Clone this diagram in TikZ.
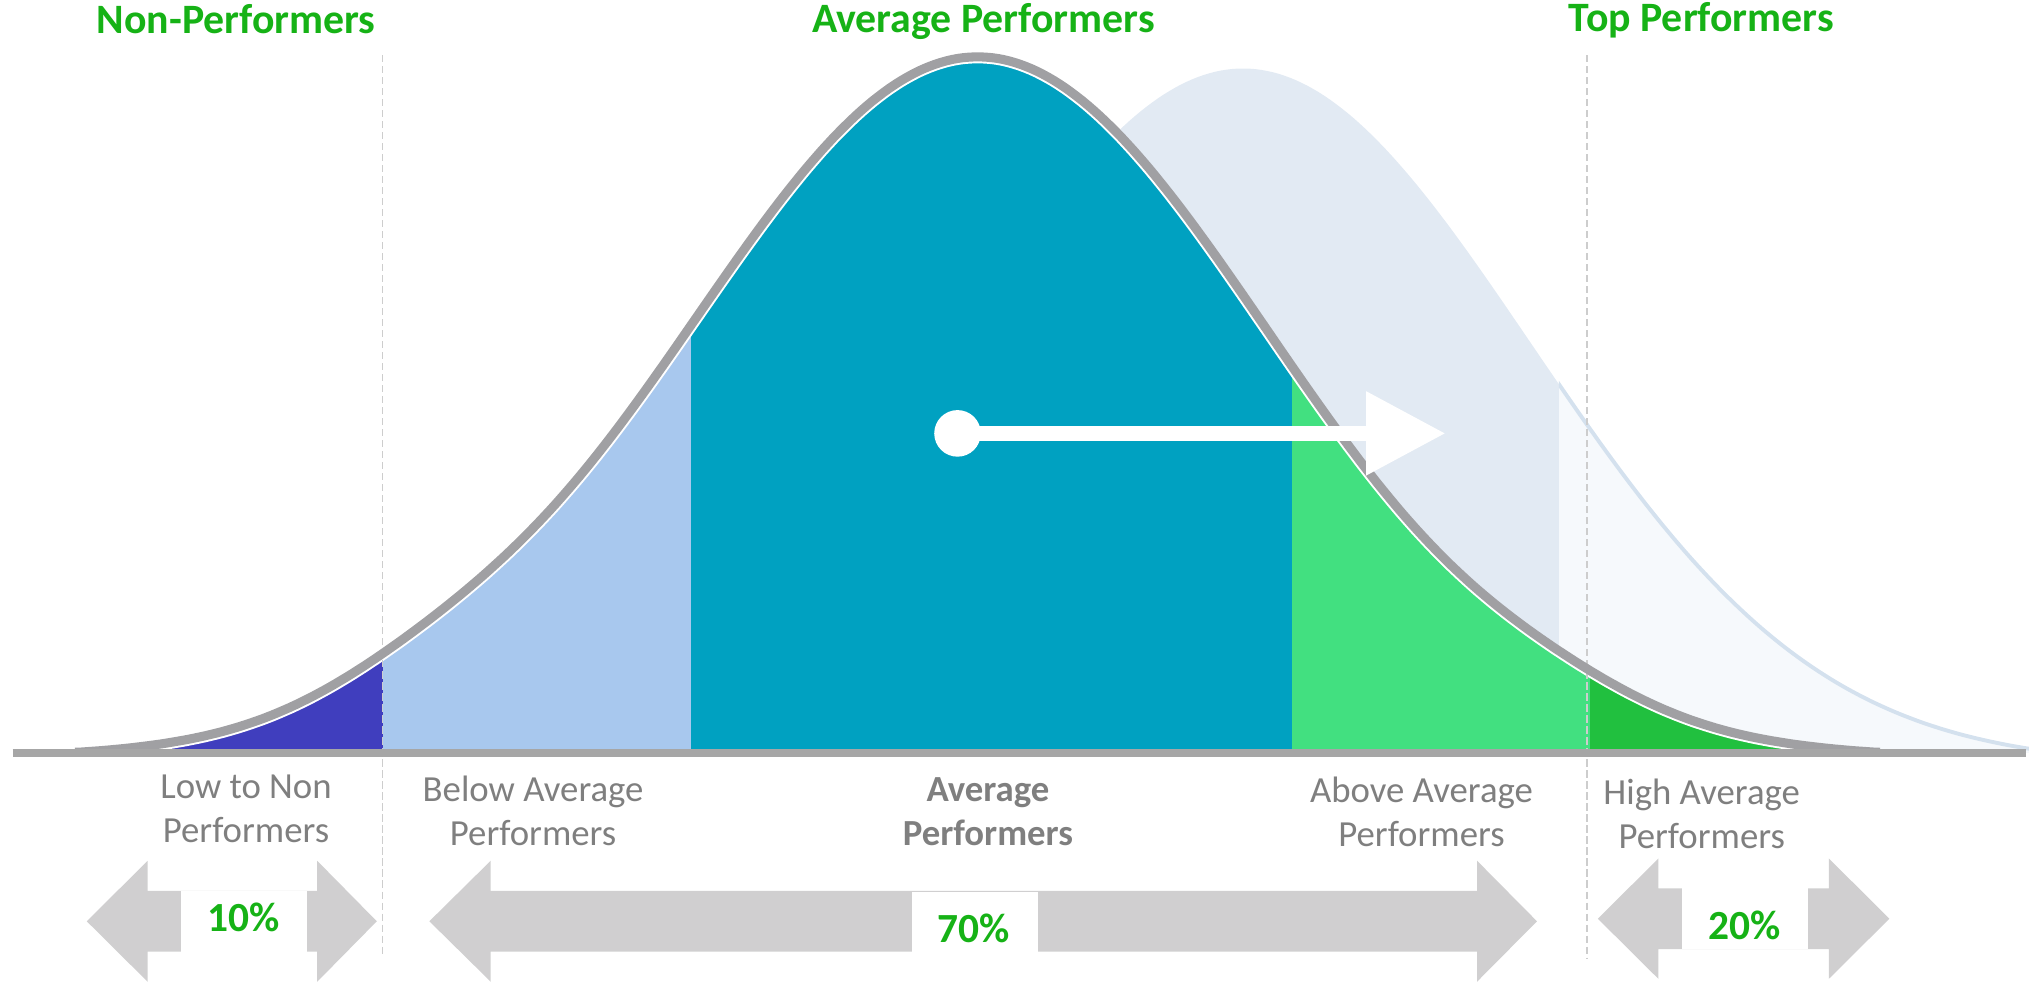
\documentclass[tikz,border=0pt]{standalone}
\usepackage{fontspec}
\setmainfont{Carlito}
\usetikzlibrary{arrows.meta}
\definecolor{cDarkBlue}{RGB}{64,62,190}
\definecolor{cLightBlue}{RGB}{168,200,238}
\definecolor{cTeal}{RGB}{0,161,193}
\definecolor{cLightGreen}{RGB}{66,224,128}
\definecolor{cDarkGreen}{RGB}{33,192,63}
\definecolor{cGhost}{RGB}{226,234,243}
\definecolor{cGhostPale}{RGB}{246,249,252}
\definecolor{cGhostLine}{RGB}{212,225,238}
\definecolor{cCurve}{RGB}{160,160,163}
\definecolor{cAxis}{RGB}{166,166,166}
\definecolor{cLabel}{RGB}{127,127,127}
\definecolor{cArrow}{RGB}{208,207,208}
\definecolor{cGreenText}{RGB}{22,178,22}
\definecolor{cDash}{RGB}{205,205,205}
\newcommand\mainpath{plot[domain=58:1452, samples=320] (\x, {581 - max(0, 541.6*exp(-((\x-755)/318.2)^2) - 4.6) - 15*exp(-min(((\x-330)/110)^2, 9)) - 9*exp(-min(((\x-1200)/95)^2, 9))})}
\newcommand\ghostpath{plot[domain=450:1600, samples=260] (\x, {581 - max(0, 538*exp(-((\x-960)/314)^2) - 10)})}
\newcommand\ghostarea{(450,581) -- plot[domain=450:1600, samples=260] (\x, {581 - max(0, 538*exp(-((\x-960)/314)^2) - 10)}) -- cycle}
\begin{document}
\begin{tikzpicture}[x=1pt,y=-1pt,
  lbl/.style={font=\fontsize{28.4}{34}\selectfont, text=cLabel, align=center, inner sep=0pt},
  lblbold/.style={lbl, font=\bfseries\fontsize{28.4}{34}\selectfont},
  ttl/.style={font=\bfseries\fontsize{32.3}{38}\selectfont, text=cGreenText, anchor=base, inner sep=0pt},
  pct/.style={font=\bfseries\fontsize{32}{38}\selectfont, text=cGreenText, inner sep=0pt},
  blockarrow/.style={fill=cArrow},
  dashline/.style={draw=cDash, line width=1.2pt, dash pattern=on 5.5pt off 3pt}]
\useasboundingbox (0,0) rectangle (1567,761);

% ghost (shifted) curve
\fill[cGhost] \ghostarea;
\begin{scope}
  \clip \ghostarea;
  \fill[cGhostPale] (1204,0) rectangle (1620,590);
\end{scope}
\begin{scope}
  \clip (1204,0) rectangle (1620,600);
  \draw[cGhostLine, line width=3pt] \ghostpath;
\end{scope}

% main curve fills
\begin{scope}
  \clip \mainpath -- cycle;
  \fill[cDarkBlue] (0,0) rectangle (296,590);
  \fill[cLightBlue] (296,0) rectangle (533.5,590);
  \fill[cTeal] (533.5,0) rectangle (998,590);
  \fill[cLightGreen] (998,0) rectangle (1228,590);
  \fill[cDarkGreen] (1228,0) rectangle (1600,590);
  \draw[white, line width=10pt] \mainpath;
\end{scope}

% dashed separators
\draw[dashline] (295.5,42.5) -- (295.5,738);
\draw[dashline] (1225.5,42.5) -- (1225.5,740);

% curve outline and axis
\draw[cCurve, line width=7pt, line join=round] \mainpath;
\draw[cAxis, line width=5.7pt] (9.7,581.5) -- (1564.7,581.5);

% white shift arrow
\node[circle, fill=white, minimum size=36pt, inner sep=0pt] (dot) at (739.5,334.7) {};
\coordinate (shiftend) at (1116.3,334.7);
\draw[white, line width=11.3pt, -{Triangle[length=61.3pt, width=62pt]}] (dot.center) -- (shiftend);

% titles
\node[ttl] (tnon) at (182.5,25.5) {Non-Performers};
\node[ttl] (tavg) at (759.5,25) {Average Performers};
\node[ttl] (ttop) at (1314,24.5) {Top Performers};

% category labels
\node[lbl] (llow) at (190,624.5) {Low to Non\\Performers};
\node[lbl] (lbelow) at (411.7,626.5) {Below Average\\Performers};
\node[lblbold] (lavg) at (763,627) {Average\\Performers};
\node[lbl] (labove) at (1097.8,627.3) {Above Average\\Performers};
\node[lbl] (lhigh) at (1314.2,628.6) {High Average\\Performers};

% block arrows
\fill[blockarrow] (67,711.5) -- (114,664.8) -- (114,688) -- (245,688) -- (245,664.8) -- (291,711.5)
  -- (245,758.2) -- (245,735) -- (114,735) -- (114,758.2) -- cycle;
\fill[blockarrow] (331.6,711.5) -- (379,664.7) -- (379,688) -- (1140.7,688) -- (1140.7,664.7) -- (1187,711.5)
  -- (1140.7,758.2) -- (1140.7,735) -- (379,735) -- (379,758.2) -- cycle;
\fill[blockarrow] (1234,709.5) -- (1280.8,663) -- (1280.8,686) -- (1412.4,686) -- (1412.4,663) -- (1459.2,709.5)
  -- (1412.4,756) -- (1412.4,733) -- (1280.8,733) -- (1280.8,756) -- cycle;
\fill[white] (140,688) rectangle (237,735);
\fill[white] (704.2,688.6) rectangle (801.8,735);
\fill[white] (1299,686) rectangle (1396,733);

% percentages
\node[pct] (p10) at (188,708.6) {10\%};
\node[pct] (p70) at (752,717) {70\%};
\node[pct] (p20) at (1347,714.4) {20\%};
\end{tikzpicture}
\end{document}
